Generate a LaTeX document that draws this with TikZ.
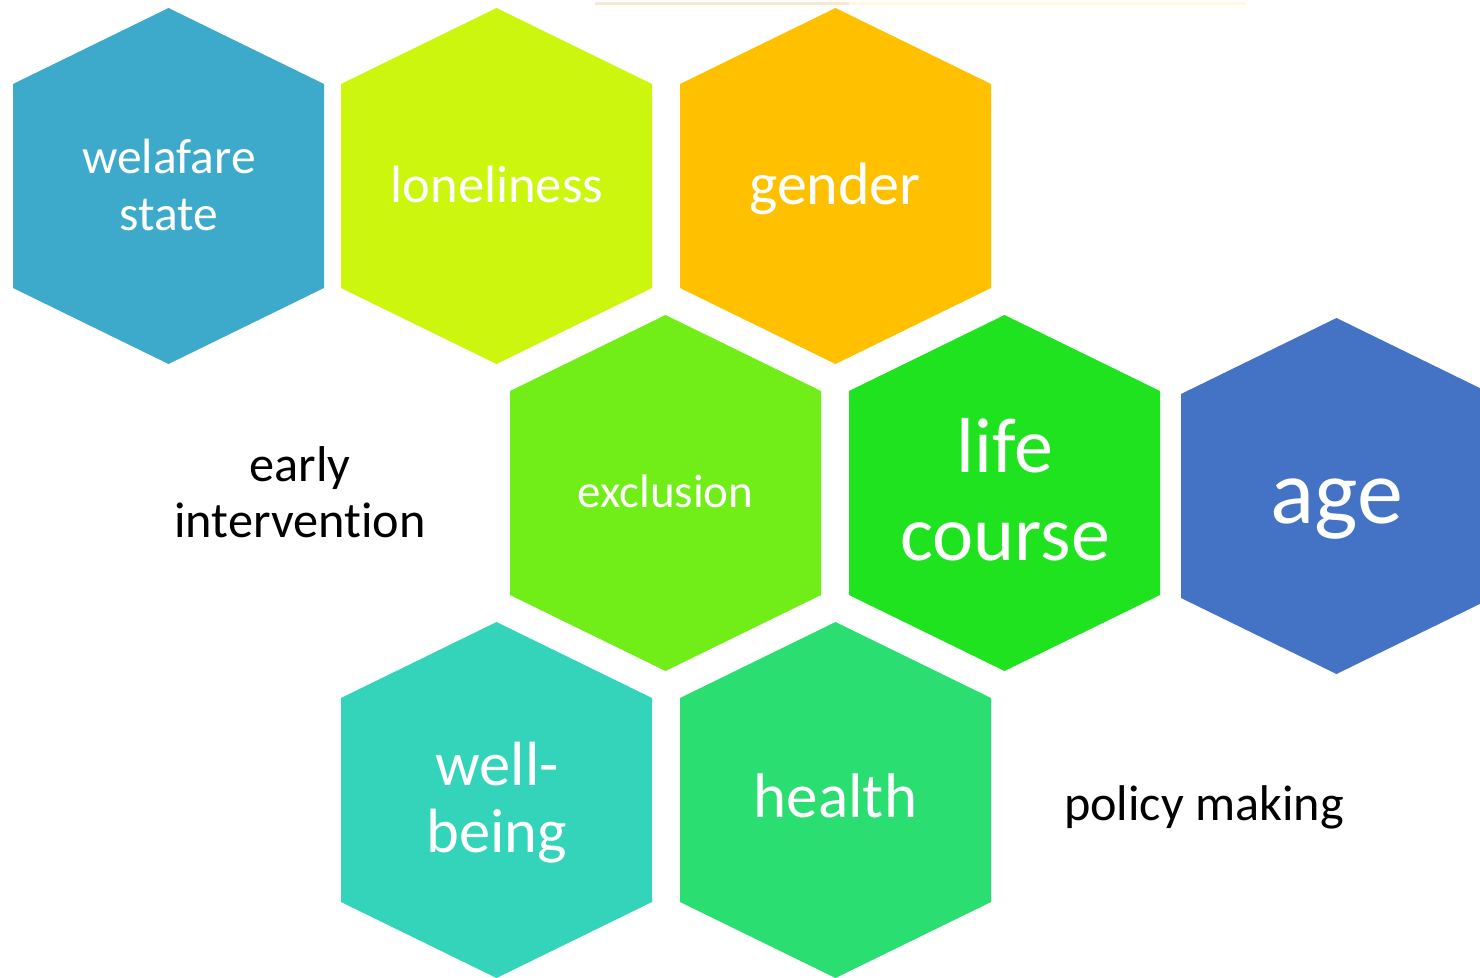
\documentclass[tikz,border=0pt]{standalone}
\usepackage{fontspec}
\setmainfont{Carlito}[Ligatures={NoCommon}]
\definecolor{cwel}{RGB}{61,170,204}
\definecolor{clon}{RGB}{205,246,14}
\definecolor{cgen}{RGB}{255,192,0}
\definecolor{cexc}{RGB}{113,238,23}
\definecolor{clif}{RGB}{32,227,32}
\definecolor{cage}{RGB}{68,114,196}
\definecolor{cwell}{RGB}{51,212,185}
\definecolor{chea}{RGB}{42,222,114}
\definecolor{cpeach}{RGB}{248,232,210}
\definecolor{cpale}{RGB}{255,248,222}
\tikzset{
  hexlabel/.style={text=white, inner sep=0pt, align=center, anchor=base},
  freelabel/.style={text=black, inner sep=0pt, align=center, anchor=base},
}
\newcommand{\hexagon}[3]{%
  \fill[#3] (#1,#2) ++(0,-178) -- ++(155.5,76) -- ++(0,204) -- ++(-155.5,76) -- ++(-155.5,-76) -- ++(0,-204) -- cycle;}
\begin{document}
\begin{tikzpicture}[x=1pt,y=-1pt]
\useasboundingbox (0,0) rectangle (1480,977);
\begin{scope}
\clip (0,0) rectangle (1480,977);
\draw[cpeach, line width=2.5pt] (595,3.3) -- (849,3.3);
\draw[cpale, line width=2.5pt] (849,3.3) -- (1246,3.3);
\hexagon{168.5}{186}{cwel}
\hexagon{496.5}{186}{clon}
\hexagon{835.5}{186}{cgen}
\hexagon{665.5}{493}{cexc}
\hexagon{1004.5}{493}{clif}
\hexagon{1336.5}{496}{cage}
\hexagon{496.5}{800}{cwell}
\hexagon{835.5}{800}{chea}
\end{scope}
% multi-line nodes: base anchor is the baseline of the last line
\node[hexlabel, font=\fontsize{49.5}{57}\selectfont] (wel) at (169,230) {welafare\\state};
\node[hexlabel, font=\fontsize{52.5}{60}\selectfont] (lon) at (497,202) {loneliness};
\node[hexlabel, font=\fontsize{60}{66}\selectfont] (gen) at (835,204) {gender};
\node[hexlabel, font=\fontsize{47}{54}\selectfont] (exc) at (665.5,507) {exclusion};
\node[hexlabel, font=\fontsize{78}{88}\selectfont] (lif) at (1005,560) {life\\course};
\node[hexlabel, font=\fontsize{92}{100}\selectfont] (age) at (1337,523) {age};
\node[hexlabel, font=\fontsize{62.5}{67}\selectfont] (well) at (497,852) {well-\\being};
\node[hexlabel, font=\fontsize{63}{70}\selectfont] (hea) at (835.5,817) {health};
\node[freelabel, font=\fontsize{50.3}{56}\selectfont] (early) at (300,537) {early\\intervention};
\node[freelabel, font=\fontsize{50.2}{58}\selectfont] (pol) at (1204,820) {policy making};
\end{tikzpicture}
\end{document}
